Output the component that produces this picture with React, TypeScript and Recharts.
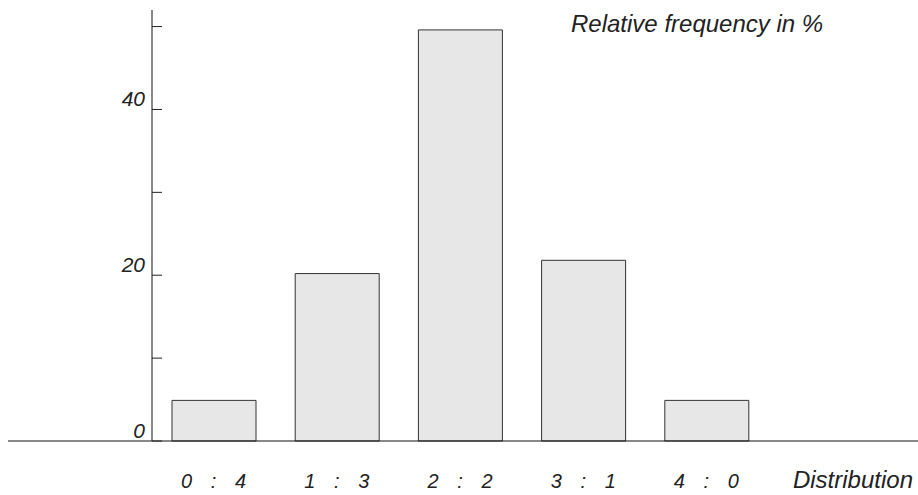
import React from 'react';
import { BarChart, Bar, XAxis, YAxis, Label } from 'recharts';

const categories = ['0 : 4', '1 : 3', '2 : 2', '3 : 1', '4 : 0'];
const frequencies = [4.9, 20.2, 49.6, 21.8, 4.9];
const yTicks = [0, 10, 20, 30, 40, 50];
const yLabelled = [0, 20, 40];
const yTitle = 'Relative frequency in %';
const xTitle = 'Distribution';

const data = categories.map((c, i) => ({ name: c, value: frequencies[i] }));

const FONT = '"Liberation Sans", Arial, Helvetica, sans-serif';
const INK = '#222';

const YTick = (props: any) => {
  const { x, y, payload } = props;
  const v = payload.value;
  return (
    <g>
      <line x1={x} x2={x + 10} y1={y} y2={y} stroke={INK} strokeWidth={1} />
      {v === 0 && <line x1={8} x2={x} y1={y} y2={y} stroke="#111" strokeWidth={1} />}
      {yLabelled.includes(v) && (
        <text x={x - 7} y={y - 3} textAnchor="end" fontStyle="italic" fontSize={21} fill={INK} fontFamily={FONT}>
          {v}
        </text>
      )}
    </g>
  );
};

const XTick = (props: any) => {
  const { x, y, payload } = props;
  const parts = String(payload.value).split(' : ');
  const ty = y + 47;
  return (
    <g fontStyle="italic" fontSize={20} fill={INK} fontFamily={FONT}>
      <text x={x - 27} y={ty} textAnchor="middle" fill={INK}>{parts[0]}</text>
      <text x={x} y={ty} textAnchor="middle" fill={INK}>:</text>
      <text x={x + 27} y={ty} textAnchor="middle" fill={INK}>{parts[1]}</text>
    </g>
  );
};

export default function App() {
  return (
    <div style={{ position: 'absolute', left: 0, top: 0 }}>
      <BarChart width={918} height={495} data={data} margin={{ top: 10, right: 0, bottom: 0, left: 0 }}>
        <XAxis
          dataKey="name"
          type="category"
          height={54}
          padding={{ left: 0, right: 150 }}
          axisLine={{ stroke: '#111', strokeWidth: 1 }}
          tickLine={false}
          tickSize={0}
          tickMargin={0}
          interval={0}
          tick={<XTick />}
        >
          <Label
            content={() => (
              <text x={913} y={488} textAnchor="end" fontStyle="italic" fontSize={24} fill={INK} fontFamily={FONT}>
                {xTitle}
              </text>
            )}
          />
        </XAxis>
        <YAxis
          width={152}
          domain={[0, 52]}
          ticks={yTicks}
          interval={0}
          axisLine={{ stroke: '#111', strokeWidth: 1 }}
          tickLine={false}
          tickSize={0}
          tickMargin={0}
          tick={<YTick />}
        >
          <Label
            content={() => (
              <text x={571} y={32} textAnchor="start" fontStyle="italic" fontSize={24} fill={INK} fontFamily={FONT}>
                {yTitle}
              </text>
            )}
          />
        </YAxis>
        <Bar dataKey="value" fill="#e6e7e6" stroke="#333" strokeWidth={1} barSize={84} isAnimationActive={false} />
      </BarChart>
    </div>
  );
}
